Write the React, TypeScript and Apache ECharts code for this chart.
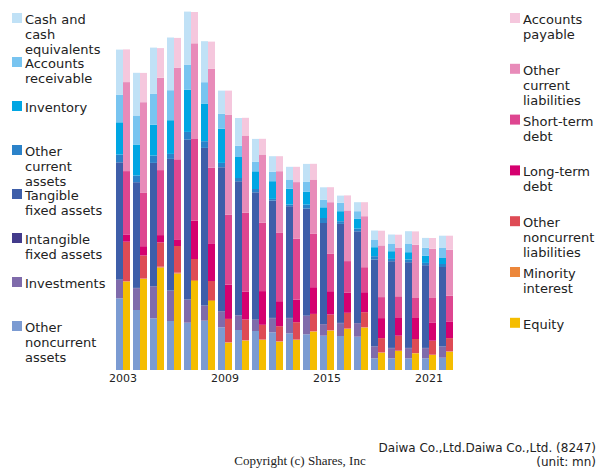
import React, { useEffect, useRef } from "react";
import * as echarts from "echarts";

const years = ["2003","2004","2005","2006","2007","2008","2009","2010","2011","2012","2013","2014","2015","2016","2017","2018","2019","2020","2021","2022"];

// Assets (bottom to top)
const otherNoncurrentAssets = [71.7, 60, 51.7, 49, 47.3, 49.3, 42.7, 40, 39, 37.7, 36.7, 35.7, 34.3, 34, 33.3, 11.7, 11.7, 11.7, 11.7, 12.3];
const investments = [18.3, 21.7, 31.7, 30, 22.7, 14.7, 15.7, 14.3, 11, 14, 15, 18.3, 11.3, 12.7, 13.3, 11.7, 10, 10, 10, 11];
const intangibleFixedAssets = [0.4, 0.4, 0.4, 0.4, 0.4, 0.4, 0.4, 0.4, 0.4, 0.4, 0.4, 0.4, 0.4, 0.4, 0.4, 0.4, 0.4, 0.4, 0.4, 0.4];
const tangibleFixedAssets = [117.3, 105.7, 123.3, 131.7, 160, 157.7, 144, 134, 127.3, 117.3, 111.7, 107, 101, 99, 91.7, 86.7, 86.7, 85.7, 82.7, 79.3];
const otherCurrentAssets = [7.7, 6.7, 7.3, 5, 7.7, 6.7, 4.3, 3.3, 3.3, 1.7, 1.7, 4, 5, 2.7, 2.7, 3.3, 2.3, 2.7, 2.3, 3];
const inventory = [32.3, 31, 31, 33.7, 42.3, 37.7, 34.3, 21, 17.7, 17.7, 15.7, 13, 10.7, 10, 9.7, 9, 7.7, 7.3, 7.3, 6];
const accountsReceivable = [27.7, 29, 31, 30, 25, 21.3, 14.7, 11.3, 9.7, 9.3, 9.3, 10, 7.7, 8.3, 7.7, 7.7, 7.7, 8.7, 7.7, 10];
const cashAndEquivalents = [45, 42.7, 46, 52.7, 53, 41, 23.3, 27.7, 22.7, 15.7, 12.7, 17.7, 12.3, 7.3, 9, 9, 9, 12.3, 10, 12.3];

// Liabilities and equity (bottom to top)
const equity = [88.3, 91, 102.3, 96.3, 89, 69, 27.3, 29.3, 30, 28.3, 30, 38.3, 39.3, 41, 42.3, 17.3, 19, 16.7, 15, 18.3];
const minorityInterest = [0.7, 0.5, 1, 1, 1, 1, 0.5, 0.5, 0.5, 0.5, 0.5, 0.5, 0.5, 0.5, 0.5, 0.3, 0.3, 0.3, 0.3, 0.3];
const otherNoncurrentLiabilities = [39.3, 23, 24.3, 26.7, 21, 19, 23.3, 20.7, 14.7, 15, 17.3, 17.3, 15.7, 15.7, 15, 14.3, 15, 14, 14, 13.3];
const longTermDebt = [7.3, 9.3, 7.3, 6.7, 38.3, 37.7, 34.3, 27.7, 33.7, 25, 22.7, 26.7, 23.3, 20, 20, 20, 17.7, 21, 18.3, 16.7];
const shortTermDebt = [63.3, 53.3, 65, 80, 81.7, 75.7, 70, 79, 68.3, 68.3, 60.7, 53.7, 37.7, 31.7, 25, 21, 21.7, 20, 25, 25.7];
const otherCurrentLiabilities = [89, 90.7, 92.3, 91.7, 95.7, 98.7, 100, 77.3, 68.3, 61.7, 56.7, 54, 51.3, 50.7, 51, 51.7, 48.3, 53.3, 48.7, 46];
const accountsPayable = [32.7, 29.3, 29.7, 29.7, 31.3, 27.3, 24, 17.7, 15.7, 15, 15.3, 15.7, 15, 15, 14, 14.7, 13.3, 13.3, 10.7, 14];

const assetSeries = [
  { name: "Other noncurrent assets", label: "Other\nnoncurrent\nassets", data: otherNoncurrentAssets, color: "#7b9bd2" },
  { name: "Investments", label: "Investments", data: investments, color: "#7f6bab" },
  { name: "Intangible fixed assets", label: "Intangible\nfixed assets", data: intangibleFixedAssets, color: "#433b8b" },
  { name: "Tangible fixed assets", label: "Tangible\nfixed assets", data: tangibleFixedAssets, color: "#3e5ea9" },
  { name: "Other current assets", label: "Other\ncurrent\nassets", data: otherCurrentAssets, color: "#2b82c9" },
  { name: "Inventory", label: "Inventory", data: inventory, color: "#00a6e3" },
  { name: "Accounts receivable", label: "Accounts\nreceivable", data: accountsReceivable, color: "#78c4f0" },
  { name: "Cash and cash equivalents", label: "Cash and\ncash\nequivalents", data: cashAndEquivalents, color: "#c0e1f6" },
];

const liabilitySeries = [
  { name: "Equity", label: "Equity", data: equity, color: "#f5bd00" },
  { name: "Minority interest", label: "Minority\ninterest", data: minorityInterest, color: "#ec873b" },
  { name: "Other noncurrent liabilities", label: "Other\nnoncurrent\nliabilities", data: otherNoncurrentLiabilities, color: "#de4b55" },
  { name: "Long-term debt", label: "Long-term\ndebt", data: longTermDebt, color: "#d5006f" },
  { name: "Short-term debt", label: "Short-term\ndebt", data: shortTermDebt, color: "#de4690" },
  { name: "Other current liabilities", label: "Other\ncurrent\nliabilities", data: otherCurrentLiabilities, color: "#e88bb9" },
  { name: "Accounts payable", label: "Accounts\npayable", data: accountsPayable, color: "#f5c7dd" },
];

const FONT = "DejaVu Sans";

export default function App() {
  const ref = useRef<HTMLDivElement>(null);
  useEffect(() => {
    if (!ref.current) return;
    const chart = echarts.init(ref.current, null, { renderer: "svg" });

    const series: any[] = [];
    assetSeries.forEach((s) =>
      series.push({
        type: "bar", name: s.name, stack: "assets", data: s.data,
        barWidth: 7, barGap: "0%",
        itemStyle: { color: s.color }, emphasis: { disabled: true },
      })
    );
    liabilitySeries.forEach((s) =>
      series.push({
        type: "bar", name: s.name, stack: "liabilities", data: s.data,
        barWidth: 7, barGap: "0%",
        itemStyle: { color: s.color }, emphasis: { disabled: true },
      })
    );

    const graphic: any[] = [];
    const leftItems = [...assetSeries].reverse();
    leftItems.forEach((s, i) => {
      const y = 13 + i * 44;
      graphic.push({ type: "rect", left: 12, top: y, shape: { width: 10, height: 10 }, style: { fill: s.color } });
      graphic.push({ type: "text", x: 25, y: y - 1, style: { text: s.label, font: `13px '${FONT}'`, fill: "#222", lineHeight: 15, verticalAlign: "top" } });
    });
    const rightItems = [...liabilitySeries].reverse();
    rightItems.forEach((s, i) => {
      const y = 13 + i * 50.8;
      graphic.push({ type: "rect", left: 510, top: y, shape: { width: 10, height: 10 }, style: { fill: s.color } });
      graphic.push({ type: "text", x: 523, y: y - 1, style: { text: s.label, font: `13px '${FONT}'`, fill: "#222", lineHeight: 15, verticalAlign: "top" } });
    });
    graphic.push({ type: "text", x: 596, y: 441, style: { text: "Daiwa Co.,Ltd.Daiwa Co.,Ltd. (8247)\n(unit: mn)", font: `12px '${FONT}'`, fill: "#222", align: "right", lineHeight: 14, verticalAlign: "top" } });
    graphic.push({ type: "text", x: 300, y: 454, style: { text: "Copyright (c) Shares, Inc", font: "13px 'Liberation Serif'", fill: "#222", align: "center", verticalAlign: "top" } });

    chart.setOption({
      animation: false,
      grid: { left: 114.5, right: 145.5, top: 10, bottom: 100 },
      xAxis: {
        type: "category", data: years,
        axisLine: { show: false }, axisTick: { show: false },
        axisLabel: { interval: 5, color: "#222", fontFamily: FONT, fontSize: 11, margin: 3 },
      },
      yAxis: { type: "value", min: 0, max: 360, show: false, splitLine: { show: false } },
      series,
      graphic,
    });
    return () => chart.dispose();
  }, []);
  return <div ref={ref} style={{ position: "absolute", left: 0, top: 0, width: 600, height: 470 }} />;
}
